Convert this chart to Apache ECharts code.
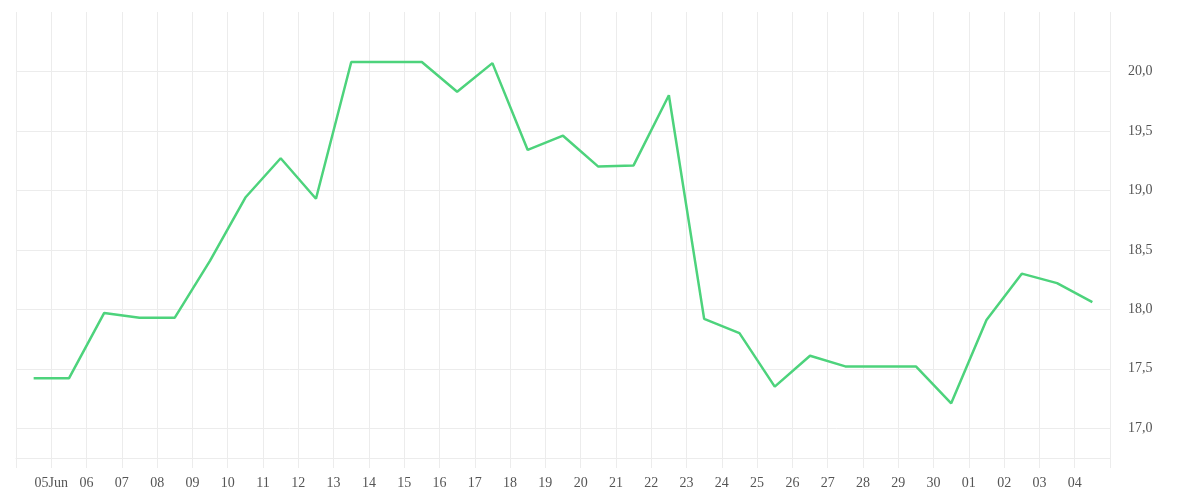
<!DOCTYPE html>
<html>
<head>
<meta charset="utf-8">
<script src="https://cdn.jsdelivr.net/npm/echarts@6/dist/echarts.min.js"></script>
<style>
  html, body { margin: 0; padding: 0; background: #ffffff; }
  #chart { width: 1200px; height: 500px; }
</style>
</head>
<body>
<div id="chart"></div>
<script>
// Data points (one per day, plotted mid-day): 04 Jun .. 04 Jul
const days = ['04Jun','05Jun','06Jun','07Jun','08Jun','09Jun','10Jun','11Jun','12Jun','13Jun',
  '14Jun','15Jun','16Jun','17Jun','18Jun','19Jun','20Jun','21Jun','22Jun','23Jun','24Jun',
  '25Jun','26Jun','27Jun','28Jun','29Jun','30Jun','01Jul','02Jul','03Jul','04Jul'];
const values = [17.42, 17.42, 17.97, 17.93, 17.93, 18.41, 18.94, 19.27, 18.93, 20.08,
  20.08, 20.08, 19.83, 20.07, 19.34, 19.46, 19.20, 19.21, 19.80, 17.92, 17.80,
  17.35, 17.61, 17.52, 17.52, 17.52, 17.21, 17.91, 18.30, 18.22, 18.06];
// Tick labels at day boundaries (start of 05 Jun .. start of 04 Jul)
const tickLabels = ['05Jun','06','07','08','09','10','11','12','13','14','15','16','17','18',
  '19','20','21','22','23','24','25','26','27','28','29','30','01','02','03','04'];

const gridColor = '#ececec';
const font = '"Liberation Serif", "Times New Roman", serif';

const chart = echarts.init(document.getElementById('chart'), null, { renderer: 'canvas' });
chart.setOption({
  animation: false,
  backgroundColor: '#ffffff',
  grid: { left: 16, right: 90, top: 12, bottom: 42, containLabel: false },
  xAxis: {
    type: 'value',
    min: 0,
    max: days.length,
    interval: 1,
    axisLine: { show: true, lineStyle: { color: gridColor, width: 1 } },
    axisTick: { show: true, length: 10, lineStyle: { color: gridColor, width: 1 } },
    splitLine: { show: true, lineStyle: { color: gridColor, width: 1 } },
    axisLabel: {
      margin: 18,
      color: '#555',
      fontFamily: font,
      fontSize: 14,
      formatter: function (v) {
        const k = Math.round(v);
        return (k >= 1 && k <= tickLabels.length) ? tickLabels[k - 1] : '';
      }
    }
  },
  yAxis: {
    type: 'value',
    position: 'right',
    min: 16.75,
    max: 20.5,
    splitNumber: 7,
    axisLine: { show: false },
    axisTick: { show: false },
    splitLine: { show: true, showMaxLine: false, lineStyle: { color: gridColor, width: 1 } },
    axisLabel: {
      margin: 18,
      color: '#555',
      fontFamily: font,
      fontSize: 14,
      showMinLabel: false,
      showMaxLabel: false,
      formatter: function (v) { return v.toFixed(1).replace('.', ','); }
    }
  },
  series: [{
    type: 'line',
    data: values.map(function (v, i) { return [i + 0.5, v]; }),
    showSymbol: false,
    symbol: 'none',
    lineStyle: { color: '#4dd37c', width: 2.5 },
    itemStyle: { color: '#4dd37c' }
  }]
});
</script>
</body>
</html>
